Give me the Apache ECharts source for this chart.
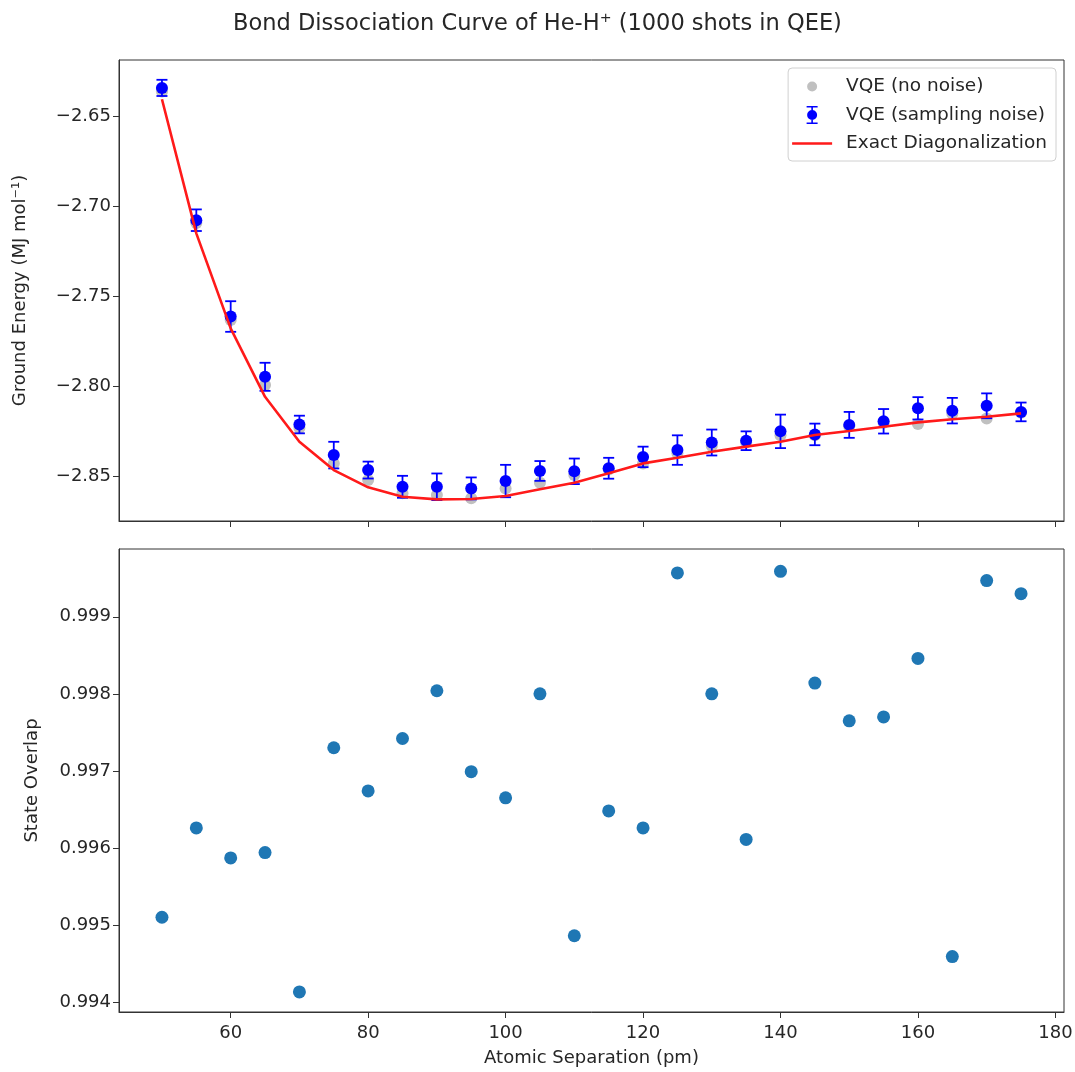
<!DOCTYPE html>
<html><head><meta charset="utf-8">
<script src="https://cdn.jsdelivr.net/npm/echarts@6/dist/echarts.min.js"></script>
<style>html,body{margin:0;padding:0;background:#fff}#c{width:1075px;height:1072px}</style>
</head><body><div id="c"></div>
<script>
// ---- data ----
const separation = [50,55,60,65,70,75,80,85,90,95,100,105,110,115,120,125,130,135,140,145,150,155,160,165,170,175];
const energyNoNoise = [-2.636,-2.709,-2.763,-2.799,-2.823,-2.8426,-2.8518,-2.8592,-2.8602,-2.862,-2.8565,-2.8533,-2.849,-2.846,-2.8426,-2.837,-2.833,-2.831,-2.827,-2.827,-2.822,-2.820,-2.8207,-2.815,-2.8176,-2.8145];
const energyNoisy = [-2.634,-2.7075,-2.761,-2.7945,-2.821,-2.838,-2.8463,-2.8556,-2.8556,-2.8565,-2.8524,-2.8468,-2.847,-2.8453,-2.839,-2.8352,-2.831,-2.830,-2.8248,-2.8265,-2.8212,-2.8192,-2.812,-2.8133,-2.8106,-2.814];
const energyErr = [0.0045,0.006,0.0085,0.0078,0.0049,0.0074,0.0047,0.0061,0.0074,0.0061,0.009,0.0055,0.0071,0.0058,0.0057,0.0082,0.0072,0.0052,0.0093,0.006,0.0072,0.0068,0.0062,0.0071,0.0069,0.0052];
const energyExact = [-2.6403,-2.7148,-2.7676,-2.8056,-2.8306,-2.8463,-2.8559,-2.8611,-2.8626,-2.8624,-2.8607,-2.857,-2.8533,-2.8481,-2.8426,-2.8395,-2.8361,-2.8333,-2.8306,-2.8268,-2.8246,-2.8222,-2.8198,-2.8181,-2.8167,-2.8148];
const overlap = [0.99510,0.99626,0.99587,0.99594,0.99413,0.99730,0.99674,0.99742,0.99804,0.99699,0.99665,0.99800,0.99486,0.99648,0.99626,0.99957,0.99800,0.99611,0.99959,0.99814,0.99765,0.99770,0.99846,0.99459,0.99947,0.99930];
const xTicks = [60,80,100,120,140,160,180];
const energyTicks = [-2.85,-2.80,-2.75,-2.70,-2.65];
const overlapTicks = [0.994,0.995,0.996,0.997,0.998,0.999];

const FONT = 'DejaVu Sans';
const FS = 18;
const TXT = '#262626';
const AX = '#333';
const chart = echarts.init(document.getElementById('c'), null, {renderer:'canvas'});

const xBase = (gi, showLabels) => ({
  type:'value', gridIndex:gi, min:43.75, max:181.25,
  axisLine:{show:true, onZero:false, lineStyle:{color:AX, width:1}},
  axisTick:{show:true, inside:false, length:6, customValues:xTicks, lineStyle:{color:AX, width:1}},
  axisLabel:{show:showLabels, customValues:xTicks, margin:12, color:TXT, fontFamily:FONT, fontSize:FS},
  splitLine:{show:false},
  name: showLabels ? 'Atomic Separation (pm)' : '',
  nameLocation:'middle', nameGap:37,
  nameTextStyle:{color:TXT, fontFamily:FONT, fontSize:FS}
});

const dotPath = 'path://M0 0L0.01 0M12 18L12.01 18M1 9A5 5 0 1 1 11 9A5 5 0 1 1 1 9Z';
const errPath = 'path://M0.5 0H11.5V1.6H0.5ZM0.5 16.4H11.5V18H0.5ZM5.2 0H6.8V18H5.2ZM1 9A5 5 0 1 1 11 9A5 5 0 1 1 1 9Z';
const linePath = 'path://M0 0L0.01 0M0 18L0.01 18M0 7.7H40V10.3H0Z';

const option = {
  backgroundColor:'#fff',
  animation:false,
  title:{text:'Bond Dissociation Curve of He-H\u207A (1000 shots in QEE)', left:'center', top:8,
    textStyle:{fontFamily:FONT, fontSize:22.5, fontWeight:'normal', color:TXT}},
  legend:{
    orient:'vertical', right:19, top:68, padding:[9,9,8,4], itemGap:9.5,
    itemWidth:40, itemHeight:18, symbolKeepAspect:true,
    backgroundColor:'#fff', borderColor:'#d0d0d0', borderWidth:1, borderRadius:4,
    textStyle:{fontFamily:FONT, fontSize:18.5, color:TXT, padding:[0,0,0,9]},
    data:[
      {name:'VQE (no noise)', icon:dotPath, itemStyle:{color:'#c0c0c0'}},
      {name:'VQE (sampling noise)', icon:errPath, itemStyle:{color:'#0000ff'}},
      {name:'Exact Diagonalization', icon:linePath, itemStyle:{color:'#ff1a1a'}}
    ]
  },
  grid:[
    {left:119, right:11, top:60, height:461, show:true, borderColor:AX, borderWidth:1, backgroundColor:'transparent', outerBoundsMode:'none'},
    {left:119, right:11, top:549, height:463, show:true, borderColor:AX, borderWidth:1, backgroundColor:'transparent', outerBoundsMode:'none'}
  ],
  xAxis:[ xBase(0,false), xBase(1,true) ],
  yAxis:[
    {type:'value', gridIndex:0, min:-2.8746, max:-2.6185,
     axisLine:{show:true, onZero:false, lineStyle:{color:AX}},
     axisTick:{show:true, length:6, customValues:energyTicks, lineStyle:{color:AX}},
     axisLabel:{customValues:energyTicks, margin:8, color:TXT, fontFamily:FONT, fontSize:FS,
       formatter:v => (v<0?'\u2212':'') + Math.abs(v).toFixed(2)},
     splitLine:{show:false},
     name:'Ground Energy (MJ mol\u207B\u00B9)', nameLocation:'middle', nameGap:90,
     nameTextStyle:{color:TXT, fontFamily:FONT, fontSize:FS}},
    {type:'value', gridIndex:1, min:0.99387, max:0.99988,
     axisLine:{show:true, onZero:false, lineStyle:{color:AX}},
     axisTick:{show:true, length:6, customValues:overlapTicks, lineStyle:{color:AX}},
     axisLabel:{customValues:overlapTicks, margin:8, color:TXT, fontFamily:FONT, fontSize:FS,
       formatter:v => v.toFixed(3)},
     splitLine:{show:false},
     name:'State Overlap', nameLocation:'middle', nameGap:78,
     nameTextStyle:{color:TXT, fontFamily:FONT, fontSize:FS}}
  ],
  series:[
    {name:'VQE (no noise)', type:'scatter', xAxisIndex:0, yAxisIndex:0, symbolSize:12,
     itemStyle:{color:'#c0c0c0', opacity:1}, z:2,
     data:separation.map((x,i)=>[x, energyNoNoise[i]])},
    {name:'VQE (sampling noise)', type:'custom', xAxisIndex:0, yAxisIndex:0, z:3,
     encode:{x:0, y:1},
     renderItem:function(params, api){
       const x = api.value(0), y = api.value(1), e = api.value(2);
       const t = api.coord([x, y+e]), b = api.coord([x, y-e]);
       const cw = 5.5;
       const st = {stroke:'#0000ff', lineWidth:1.8, fill:null};
       return {type:'group', children:[
         {type:'line', shape:{x1:t[0],y1:t[1],x2:b[0],y2:b[1]}, style:st},
         {type:'line', shape:{x1:t[0]-cw,y1:t[1],x2:t[0]+cw,y2:t[1]}, style:st},
         {type:'line', shape:{x1:b[0]-cw,y1:b[1],x2:b[0]+cw,y2:b[1]}, style:st}
       ]};
     },
     itemStyle:{color:'#0000ff'},
     data:separation.map((x,i)=>[x, energyNoisy[i], energyErr[i]])},
    {name:'VQE (sampling noise)', type:'scatter', xAxisIndex:0, yAxisIndex:0, symbolSize:12,
     itemStyle:{color:'#0000ff', opacity:1}, z:4,
     data:separation.map((x,i)=>[x, energyNoisy[i]])},
    {name:'Exact Diagonalization', type:'line', xAxisIndex:0, yAxisIndex:0, showSymbol:false, symbol:'none',
     lineStyle:{color:'#ff1a1a', width:2.6}, itemStyle:{color:'#ff1a1a'}, z:5,
     data:separation.map((x,i)=>[x, energyExact[i]])},
    {name:'overlap', type:'scatter', xAxisIndex:1, yAxisIndex:1, symbolSize:13,
     itemStyle:{color:'#1f77b4', opacity:1},
     data:separation.map((x,i)=>[x, overlap[i]])}
  ]
};
chart.setOption(option);
</script>
</body></html>
